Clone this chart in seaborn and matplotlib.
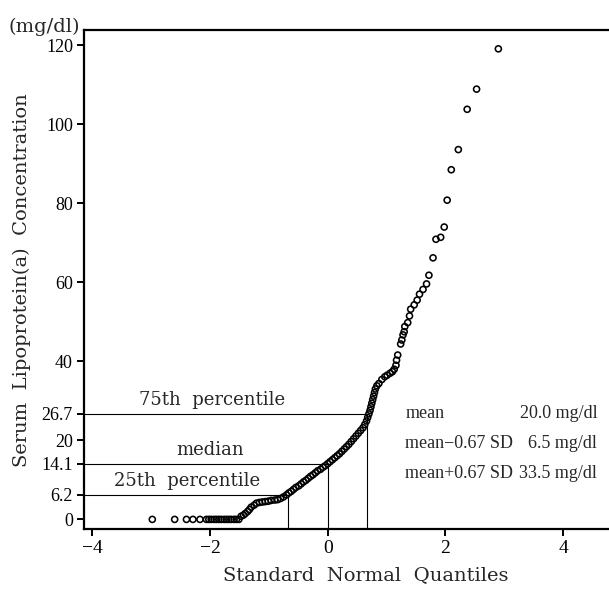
import matplotlib
matplotlib.use('Agg')
import matplotlib.pyplot as plt
import seaborn as sns
import pandas as pd

# Q-Q points: standard normal quantile vs Lp(a) (mg/dl)
z_values = [
    -2.98, -2.60, -2.40, -2.29, -2.17, -2.06, -2.02, -1.98, -1.93, -1.89,
    -1.85, -1.81, -1.76, -1.72, -1.68, -1.64, -1.59, -1.55, -1.51,
    -1.47, -1.43, -1.40, -1.36, -1.33, -1.30, -1.25, -1.21,
    -1.16, -1.11, -1.06, -1.01, -0.96, -0.90, -0.85, -0.80, -0.75, -0.70,
    -0.66, -0.62, -0.58, -0.54, -0.49, -0.45, -0.41, -0.37, -0.33, -0.29,
    -0.25, -0.21, -0.17, -0.12, -0.08, -0.04, 0.00,
    0.04, 0.08, 0.12, 0.16, 0.20, 0.24, 0.28, 0.32, 0.36, 0.40,
    0.44, 0.48, 0.52, 0.56, 0.60, 0.63, 0.66, 0.68, 0.70,
    0.72, 0.735, 0.75, 0.765, 0.78, 0.795, 0.81,
    0.835, 0.87, 0.92, 0.97, 1.01, 1.06, 1.10, 1.13, 1.16, 1.17, 1.19,
    1.24, 1.26, 1.28, 1.30, 1.31, 1.36, 1.39, 1.41, 1.47, 1.52,
    1.56, 1.62, 1.68, 1.72, 1.79, 1.84, 1.92, 1.98, 2.03, 2.10,
    2.22, 2.37, 2.53, 2.90,
]
lpa_values = [
    0, 0, 0, 0, 0, 0, 0, 0, 0, 0,
    0, 0, 0, 0, 0, 0, 0, 0, 0,
    0.8, 1.1, 1.5, 2.0, 2.5, 3.1, 3.6, 4.1,
    4.3, 4.4, 4.5, 4.6, 4.8, 4.9, 5.0, 5.3, 5.7, 6.2,
    6.7, 7.1, 7.6, 8.1, 8.5, 9.0, 9.5, 9.9, 10.4, 10.9,
    11.3, 11.8, 12.3, 12.7, 13.2, 13.6, 14.1,
    14.6, 15.1, 15.6, 16.1, 16.6, 17.2, 17.8, 18.4, 19.0, 19.7,
    20.4, 21.1, 21.8, 22.5, 23.2, 24.0, 24.9, 25.8, 26.7,
    27.6, 28.5, 29.4, 30.3, 31.2, 32.1, 33.0,
    33.8, 34.4, 35.4, 36.1, 36.5, 37.0, 37.4, 38.0, 39.0, 40.3, 41.6,
    44.4, 45.4, 46.7, 47.5, 48.8, 49.8, 51.5, 53.2, 54.3, 55.5,
    57.0, 58.2, 59.6, 61.8, 66.2, 70.9, 71.4, 74.0, 80.8, 88.5,
    93.6, 103.8, 108.9, 119.1,
]

# percentile reference lines
pct_labels = ['25th  percentile', 'median', '75th  percentile']
pct_values = [6.2, 14.1, 26.7]
pct_z = [-0.674, 0.0, 0.674]

# summary text
stat_names = ['mean', 'mean\u22120.67 SD', 'mean+0.67 SD']
stat_texts = ['20.0 mg/dl', '6.5 mg/dl', '33.5 mg/dl']

y_ticks = [0, 6.2, 14.1, 20, 26.7, 40, 60, 80, 100, 120]
y_ticklabels = ['0', '6.2', '14.1', '20', '26.7', '40', '60', '80', '100', '120']
x_ticks = [-4, -2, 0, 2, 4]
x_ticklabels = ['\u22124', '\u22122', '0', '2', '4']

df = pd.DataFrame({'z': z_values, 'lpa': lpa_values})

sns.set_style('ticks')
plt.rcParams['font.family'] = ['DejaVu Serif']

fig = plt.figure(figsize=(6.09, 5.89), dpi=100)
ax = fig.add_axes([0.138, 0.1014, 0.862, 0.8472])

xlo, xhi = -4.14, 4.78
ylo, yhi = -2.5, 123.8

sns.scatterplot(data=df, x='z', y='lpa', ax=ax, marker='o', s=19,
                facecolors='none', edgecolor='black', linewidth=1.15, zorder=3)

# quartile reference lines
for v, z in zip(pct_values, pct_z):
    ax.hlines(v, xlo, z, color='black', lw=0.8)
    ax.vlines(z, ylo, v, color='black', lw=0.8)

ax.text(-1.96, 30.2, pct_labels[2], ha='center', va='center', fontsize=13)
ax.text(-2.0, 17.6, pct_labels[1], ha='center', va='center', fontsize=13)
ax.text(-2.39, 9.6, pct_labels[0], ha='center', va='center', fontsize=13)

for k, (nm, tx) in enumerate(zip(stat_names, stat_texts)):
    yb = 25.6 - 7.6 * k
    ax.text(1.32, yb, nm, ha='left', va='baseline', fontsize=13,
            family='Liberation Serif')
    ax.text(4.58, yb, tx, ha='right', va='baseline', fontsize=13,
            family='Liberation Serif')

ax.set_xlim(xlo, xhi)
ax.set_ylim(ylo, yhi)
ax.set_xticks(x_ticks)
ax.set_xticklabels(x_ticklabels, family='Liberation Serif', fontsize=14)
ax.set_yticks(y_ticks)
ax.set_yticklabels(y_ticklabels, family='Liberation Serif', fontsize=13)
ax.tick_params(direction='out', length=5, width=1.4, pad=3, colors='black')

for side in ['left', 'top', 'bottom']:
    ax.spines[side].set_linewidth(1.6)
    ax.spines[side].set_color('black')
ax.spines['right'].set_visible(False)

ax.set_xlabel('Standard  Normal  Quantiles', fontsize=14)
ax.xaxis.set_label_coords(0.537, -0.092)
ax.xaxis.label.set_va('center')
ax.set_ylabel('Serum  Lipoprotein(a)  Concentration', fontsize=14)
ax.yaxis.set_label_coords(-0.118, 0.5)
ax.yaxis.label.set_va('center')

fig.text(80 / 609, 1 - 27 / 589, '(mg/dl)', ha='right', va='center', fontsize=14)

fig.savefig('out.png', dpi=100)
